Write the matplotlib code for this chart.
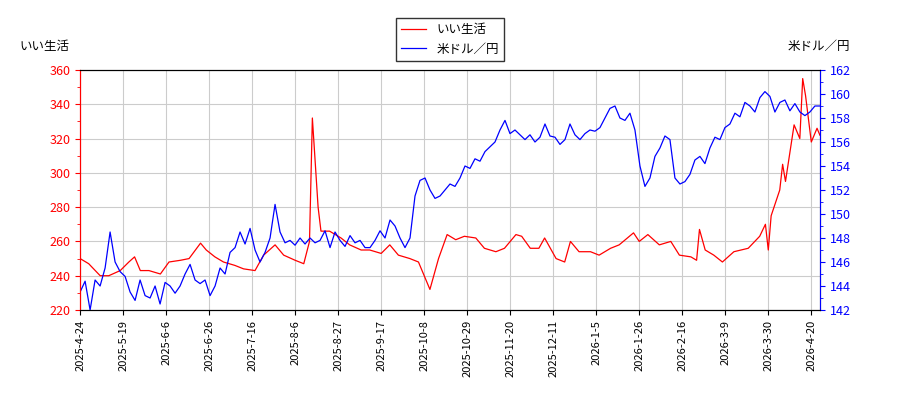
import numpy as np
import matplotlib.pyplot as plt

plt.rcParams['font.family'] = ['Noto Sans CJK JP', 'DejaVu Sans']

tick_labels = ["2025-4-24", "2025-5-19", "2025-6-6", "2025-6-26", "2025-7-16", "2025-8-6",
               "2025-8-27", "2025-9-17", "2025-10-8", "2025-10-29", "2025-11-20", "2025-12-11",
               "2026-1-5", "2026-1-26", "2026-2-16", "2026-3-9", "2026-3-30", "2026-4-20"]

# いい生活 (trading-day index, price)
red_day = [0, 3, 7, 10, 14, 17, 19, 21, 24, 28, 31, 35, 38, 42, 44, 47, 50, 54, 57, 61, 64, 68,
           71, 75, 78, 80, 81, 83, 84, 87, 91, 94, 98, 101, 105, 108, 111, 115, 118, 122, 125,
           128, 131, 134, 138, 141, 145, 148, 152, 154, 157, 160, 162, 166, 169, 171, 174, 178,
           181, 185, 188, 193, 195, 198, 202, 206, 209, 213, 215, 216, 218, 221, 224, 228, 233,
           237, 239, 240, 241, 242, 244, 245, 246, 249, 251, 252, 253, 255, 257, 258]
red_val = [250, 247, 240, 240, 243, 248, 251, 243, 243, 241, 248, 249, 250, 259, 255, 251, 248,
           246, 244, 243, 252, 258, 252, 249, 247, 260, 332, 280, 266, 266, 262, 258, 255, 255,
           253, 258, 252, 250, 248, 232, 250, 264, 261, 263, 262, 256, 254, 256, 264, 263, 256,
           256, 262, 250, 248, 260, 254, 254, 252, 256, 258, 265, 260, 264, 258, 260, 252, 251,
           249, 267, 255, 252, 248, 254, 256, 263, 270, 255, 275, 280, 290, 305, 295, 328, 320,
           355, 345, 318, 326, 322]

# 米ドル/円, sampled about every 1.74 trading days
usd_val = [143.5, 144.4, 142, 144.5, 144, 145.5, 148.5, 146, 145.2, 144.8, 143.5, 142.8, 144.5,
           143.2, 143, 144, 142.5, 144.3, 144, 143.4, 144, 145, 145.8, 144.5, 144.2, 144.5,
           143.2, 144, 145.5, 145, 146.8, 147.2, 148.5, 147.5, 148.8, 147, 146, 146.8, 148,
           150.8, 148.5, 147.6, 147.8, 147.4, 148, 147.5, 148, 147.6, 147.8, 148.6, 147.2,
           148.5, 147.8, 147.3, 148.2, 147.6, 147.8, 147.2, 147.2, 147.8, 148.6, 148, 149.5,
           149, 148, 147.2, 148, 151.5, 152.8, 153, 152, 151.3, 151.5, 152, 152.5, 152.3, 153,
           154, 153.8, 154.6, 154.4, 155.2, 155.6, 156, 157, 157.8, 156.7, 157, 156.6, 156.2,
           156.6, 156, 156.4, 157.5, 156.5, 156.4, 155.8, 156.2, 157.5, 156.6, 156.2, 156.7,
           157, 156.9, 157.2, 158, 158.8, 159, 158, 157.8, 158.4, 157, 154, 152.3, 153, 154.8,
           155.5, 156.5, 156.2, 153, 152.5, 152.7, 153.3, 154.5, 154.8, 154.2, 155.5, 156.4,
           156.2, 157.2, 157.5, 158.4, 158.1, 159.3, 159, 158.5, 159.7, 160.2, 159.8, 158.5,
           159.3, 159.5, 158.6, 159.2, 158.5, 158.2, 158.5, 159, 159]
usd_day = np.arange(len(usd_val)) * 258 / (len(usd_val) - 1)

fig = plt.figure(figsize=(9, 4), dpi=100)
ax = fig.add_axes([0.089, 0.225, 0.822, 0.6])
ax2 = ax.twinx()

l1, = ax.plot(red_day, red_val, color='red', lw=0.9, label='いい生活')
l2, = ax2.plot(usd_day, usd_val, color='blue', lw=0.9, label='米ドル／円')

ax.set_xlim(0, 258)
ax.set_ylim(220, 360)
ax2.set_ylim(142, 162)
ax.set_yticks(range(220, 361, 20))
ax2.set_yticks(range(142, 163, 2))
ax.set_xticks(range(0, 15 * len(tick_labels), 15))
ax.set_xticklabels(tick_labels, rotation=90, fontsize=8)
ax.grid(True, color='#cccccc')
ax.tick_params(axis='y', colors='red', labelsize=9)
ax2.tick_params(axis='y', colors='blue', labelsize=9)
ax.spines['left'].set_color('red')
ax2.spines['left'].set_color('red')
ax2.spines['right'].set_color('blue')
ax.yaxis.set_minor_locator(plt.MultipleLocator(10))
ax2.yaxis.set_minor_locator(plt.MultipleLocator(1))
ax2.tick_params(axis='y', which='minor', colors='blue')
ax.tick_params(axis='y', which='minor', colors='red')

fig.text(0.022, 0.875, 'いい生活', fontsize=9)
fig.text(0.945, 0.875, '米ドル／円', fontsize=9, ha='right')
fig.legend([l1, l2], ['いい生活', '米ドル／円'], loc='upper center', bbox_to_anchor=(0.5, 0.97),
           fontsize=9, fancybox=False, edgecolor='black')

fig.savefig('out.png')
